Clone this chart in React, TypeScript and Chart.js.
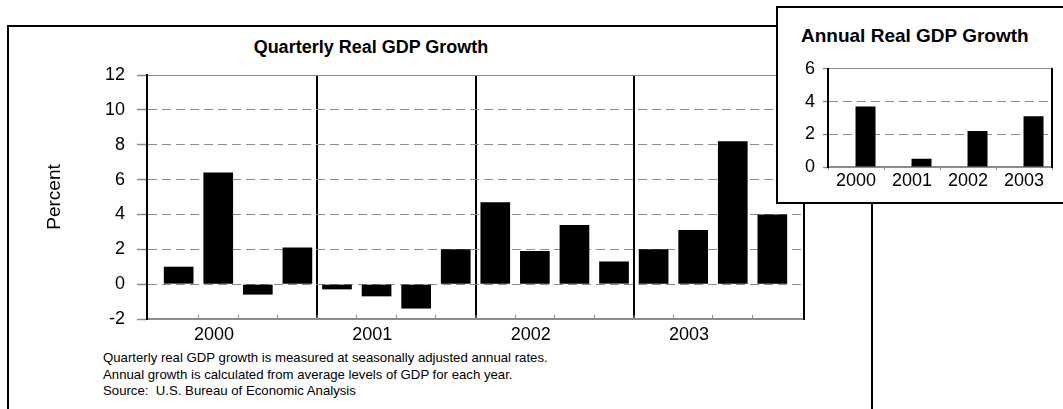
import React, { useEffect, useRef } from 'react';
import { Chart, registerables } from 'chart.js';

Chart.register(...registerables);

// ---------- data ----------
const quarterLabels = [
  '2000 Q1', '2000 Q2', '2000 Q3', '2000 Q4',
  '2001 Q1', '2001 Q2', '2001 Q3', '2001 Q4',
  '2002 Q1', '2002 Q2', '2002 Q3', '2002 Q4',
  '2003 Q1', '2003 Q2', '2003 Q3', '2003 Q4',
];
const quarterlyGrowth = [1.0, 6.4, -0.6, 2.1, -0.3, -0.7, -1.4, 2.0, 4.7, 1.9, 3.4, 1.3, 2.0, 3.1, 8.2, 4.0];
const yearLabels = ['2000', '2001', '2002', '2003'];
const annualGrowth = [3.7, 0.5, 2.2, 3.1];
const quarterlyTicks = [-2, 0, 2, 4, 6, 8, 10, 12];
const annualTicks = [0, 2, 4, 6];
const mainTitle = 'Quarterly Real GDP Growth';
const insetTitle = 'Annual Real GDP Growth';
const yAxisTitle = 'Percent';
const footnotes = [
  'Quarterly real GDP growth is measured at seasonally adjusted annual rates.',
  'Annual growth is calculated from average levels of GDP for each year.',
  'Source:  U.S. Bureau of Economic Analysis',
];

// ---------- styles ----------
const FONT = "'Liberation Sans', Arial, Helvetica, sans-serif";
const GRID = '#8c8c8c';
const DASH = [9, 5];

export default function App() {
  const mainRef = useRef<HTMLCanvasElement | null>(null);
  const insetRef = useRef<HTMLCanvasElement | null>(null);

  useEffect(() => {
    if (!mainRef.current || !insetRef.current) return;
    const quarterBoundaries = quarterLabels.slice(1).map((_, i) => i + 0.5);
    const qMin = quarterlyTicks[0];
    const qMax = quarterlyTicks[quarterlyTicks.length - 1];

    const main = new Chart(mainRef.current, {
      type: 'bar',
      data: {
        datasets: [
          {
            label: 'Quarterly',
            data: quarterlyGrowth.map((v, i) => ({ x: i, y: v })),
            backgroundColor: '#000',
            borderWidth: 0,
            barPercentage: 0.75,
            categoryPercentage: 1,
          },
        ],
      },
      options: {
        animation: false,
        responsive: false,
        layout: { padding: { left: 30, right: 76, top: 75, bottom: 0 } },
        plugins: { legend: { display: false }, tooltip: { enabled: false }, title: { display: false } },
        scales: {
          x: {
            type: 'linear',
            offset: false,
            min: -0.8,
            max: quarterLabels.length - 0.2,
            afterBuildTicks: (s: any) => {
              s.ticks = quarterBoundaries.map((v) => ({ value: v }));
            },
            afterFit: (s: any) => {
              s.height = 26;
            },
            ticks: {
              autoSkip: false,
              maxRotation: 0,
              padding: 9,
              labelOffset: -24,
              color: '#000',
              font: { family: FONT, size: 18 },
              callback: (v: any) => {
                const k = (Number(v) - 1.5) / 4;
                return Number.isInteger(k) && yearLabels[k] ? yearLabels[k] : '';
              },
            },
            grid: {
              offset: false,
              color: (c: any) => (c.tick && (c.tick.value + 0.5) % 4 === 0 ? '#000' : 'rgba(0,0,0,0)'),
              lineWidth: (c: any) => (c.tick && (c.tick.value + 0.5) % 4 === 0 ? 2 : 1),
              tickLength: -4,
              tickColor: GRID,
              tickWidth: 1,
            },
            border: { color: GRID, width: 2 },
          },
          y: {
            min: qMin,
            max: qMax,
            afterBuildTicks: (s: any) => {
              s.ticks = quarterlyTicks.map((v) => ({ value: v }));
            },
            afterFit: (s: any) => {
              s.width = 117;
            },
            ticks: {
              padding: 12,
              color: '#000',
              font: { family: FONT, size: 18 },
              callback: (v: any) => String(v),
            },
            grid: { color: GRID, lineWidth: 1, tickLength: 10, tickColor: GRID, tickWidth: 1.5 },
            border: {
              color: '#000',
              width: 2,
              dash: (c: any) =>
                c.tick && c.tick.value !== qMin && c.tick.value !== qMax ? DASH : [],
            },
            title: {
              display: true,
              text: yAxisTitle,
              color: '#000',
              font: { family: FONT, size: 19 },
              padding: { top: 13.6, bottom: 0 },
            },
          },
          y2: {
            position: 'right',
            min: qMin,
            max: qMax,
            ticks: { display: false },
            grid: { display: false, drawTicks: false },
            border: { color: '#000', width: 2 },
            afterFit: (s: any) => {
              s.width = 0;
            },
          },
        },
      },
    } as any);

    const aMin = annualTicks[0];
    const aMax = annualTicks[annualTicks.length - 1];
    const inset = new Chart(insetRef.current, {
      type: 'bar',
      data: {
        labels: yearLabels,
        datasets: [
          {
            label: 'spacer',
            data: yearLabels.map(() => null),
            backgroundColor: '#000',
            categoryPercentage: 0.68,
            barPercentage: 1.05,
          },
          {
            label: 'Annual',
            data: annualGrowth,
            backgroundColor: '#000',
            borderWidth: 0,
            categoryPercentage: 0.68,
            barPercentage: 1.05,
          },
        ],
      },
      options: {
        animation: false,
        responsive: false,
        layout: { padding: { left: 0, right: 11, top: 12, bottom: 0 } },
        plugins: { legend: { display: false }, tooltip: { enabled: false }, title: { display: false } },
        scales: {
          x: {
            afterFit: (s: any) => {
              s.height = 33;
            },
            ticks: { padding: 0, maxRotation: 0, autoSkip: false, color: '#000', font: { family: FONT, size: 18 } },
            grid: { color: 'rgba(0,0,0,0)', tickLength: 3, tickColor: GRID, offset: true },
            border: { color: GRID, width: 2 },
          },
          y: {
            min: aMin,
            max: aMax,
            afterBuildTicks: (s: any) => {
              s.ticks = annualTicks.map((v) => ({ value: v }));
            },
            afterFit: (s: any) => {
              s.width = 49;
            },
            ticks: { padding: 8, color: '#000', font: { family: FONT, size: 18 }, callback: (v: any) => String(v) },
            grid: { color: GRID, lineWidth: 1, tickLength: 5, tickColor: GRID, tickWidth: 1.5 },
            border: {
              color: '#000',
              width: 2,
              dash: (c: any) =>
                c.tick && c.tick.value !== aMin && c.tick.value !== aMax ? DASH : [],
            },
          },
          y2: {
            position: 'right',
            min: aMin,
            max: aMax,
            ticks: { display: false },
            grid: { display: false, drawTicks: false },
            border: { color: '#000', width: 2 },
            afterFit: (s: any) => {
              s.width = 0;
            },
          },
        },
      },
    } as any);

    return () => {
      main.destroy();
      inset.destroy();
    };
  }, []);

  return (
    <div
      style={{
        position: 'fixed',
        left: 0,
        top: 0,
        width: 1063,
        height: 409,
        background: '#fff',
        overflow: 'hidden',
        fontFamily: FONT,
        color: '#000',
      }}
    >
      <div
        style={{
          position: 'absolute',
          left: 7,
          top: 25,
          width: 866,
          height: 420,
          boxSizing: 'border-box',
          borderLeft: '2px solid #000',
          borderTop: '2px solid #000',
          borderRight: '2px solid #000',
        }}
      />
      <div
        style={{
          position: 'absolute',
          left: 0,
          top: 37,
          width: 742,
          textAlign: 'center',
          fontWeight: 'bold',
          fontSize: 18,
          lineHeight: '20px',
          whiteSpace: 'nowrap',
        }}
      >
        {mainTitle}
      </div>
      <canvas
        ref={mainRef}
        width={880}
        height={345}
        style={{ position: 'absolute', left: 0, top: 0, width: 880, height: 345 }}
      />
      <div
        style={{
          position: 'absolute',
          left: 103,
          top: 350,
          fontSize: 13.2,
          lineHeight: '16.5px',
          whiteSpace: 'pre',
        }}
      >
        {footnotes.map((f) => (
          <div key={f}>{f}</div>
        ))}
      </div>
      <div
        style={{
          position: 'absolute',
          left: 776,
          top: 6,
          width: 300,
          height: 198,
          boxSizing: 'border-box',
          border: '2px solid #000',
          background: '#fff',
        }}
      />
      <div
        style={{
          position: 'absolute',
          left: 801,
          top: 25,
          fontWeight: 'bold',
          fontSize: 19,
          lineHeight: '22px',
          whiteSpace: 'nowrap',
        }}
      >
        {insetTitle}
      </div>
      <canvas
        ref={insetRef}
        width={284}
        height={150}
        style={{ position: 'absolute', left: 779, top: 50, width: 284, height: 150 }}
      />
    </div>
  );
}
